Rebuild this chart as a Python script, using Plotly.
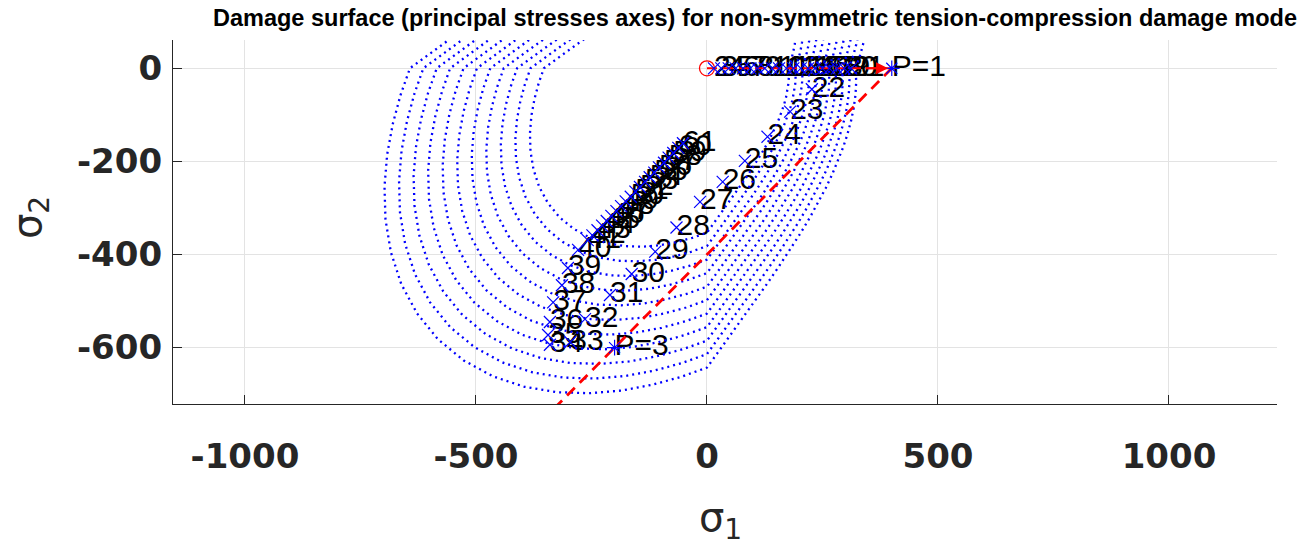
import plotly.graph_objects as go

# ---------------- data ----------------
# largest damage surface in principal-stress plane (sigma1, sigma2)
surf_s1 = [-426.5, -469.0, -517.3, -573.8, -606.4, -643.0, -663.5, -680.2, -692.3, -698.0,
           -695.9, -684.2, -661.8, -627.6, -582.2, -526.6, -463.4, -395.1, -324.5, -254.0,
           -185.5, -119.9, -58.1, 0.0, 26.5, 50.2, 91.2, 125.7, 155.2, 180.9, 203.5, 223.5,
           241.2, 257.1, 271.2, 283.7, 294.6, 304.0, 311.7, 317.6, 321.5, 323.0, 321.5,
           331.7, 340.1, 346.1, 349.0]
surf_s2 = [155.2, 125.7, 91.2, 50.2, 26.5, 0.0, -58.1, -119.9, -185.5, -254.0,
           -324.5, -395.1, -463.4, -526.6, -582.2, -627.6, -661.8, -684.2, -695.9, -698.0,
           -692.3, -680.2, -663.5, -643.0, -606.4, -573.8, -517.3, -469.0, -426.5, -388.0,
           -352.5, -319.2, -287.5, -257.1, -227.6, -198.6, -170.1, -141.8, -113.5, -85.1,
           -56.7, -28.3, 0.0, 29.0, 60.0, 92.7, 127.0]
surf_outer_cross = 643.0
# compressive sigma1-axis crossing of every plotted surface
surf_levels = [353, 382, 411, 440, 469, 498, 527, 556, 585, 614, 643]

# computed stress path (step number, sigma1, sigma2)
step_ids = list(range(2, 62))
step_s1 = [15, 31, 47, 62, 78, 94, 109, 125, 141, 156, 172, 187, 203, 219, 234, 250, 265, 281, 297, 312,
           227, 180, 131, 82, 34, -15, -66, -112, -163, -210, -264, -296,
           -340, -344, -340, -333, -314, -301, -279,
           -258, -248, -237, -227, -217, -207, -196, -186, -176, -165, -155, -145, -134, -124,
           -114, -104, -93, -83, -73, -62, -52]
step_s2 = [0] * 20 + [
           -45, -93, -147, -199, -244, -287, -342, -394, -442, -487, -539, -588,
           -594, -573, -545, -503, -466, -429, -390,
           -369, -359, -348, -338, -328, -317, -307, -296, -286, -276, -265, -255, -244, -234,
           -224, -213, -203, -192, -182, -171, -161]

# prescribed load points
load_s1 = [400, -200]
load_s2 = [0, -600]
load_names = ["P=1", "P=3"]
origin = (0, 0)
path_end = (-400, -800)

x_ticks = [-1000, -500, 0, 500, 1000]
x_tick_text = ["-1000", "-500", "0", "500", "1000"]
y_ticks = [-600, -400, -200, 0]
y_tick_text = ["-600", "-400", "-200", "0"]

BLUE = "#0000ff"
RED = "#ff0000"

fig = go.Figure()

# step labels (drawn first, surfaces end up on top as in the original)
fig.add_trace(go.Scatter(
    x=step_s1, y=step_s2, mode="text", text=[str(i) for i in step_ids],
    textposition="middle right",
    textfont=dict(family="Liberation Sans, Arial", size=30, color="black"),
    showlegend=False, hoverinfo="skip"))
fig.add_trace(go.Scatter(
    x=load_s1, y=load_s2, mode="text", text=load_names,
    textposition="middle right",
    textfont=dict(family="Liberation Sans, Arial", size=30, color="black"),
    showlegend=False, hoverinfo="skip"))

# damage surfaces
for lev in surf_levels:
    k = lev / surf_outer_cross
    fig.add_trace(go.Scatter(
        x=[v * k for v in surf_s1], y=[v * k for v in surf_s2], mode="lines",
        line=dict(color=BLUE, width=2.3, dash="2px,4px"),
        showlegend=False, hoverinfo="skip"))

# prescribed path
fig.add_trace(go.Scatter(
    x=[origin[0], load_s1[0]], y=[origin[1], load_s2[0]], mode="lines",
    line=dict(color=RED, width=2, dash="10px,6px"), showlegend=False))
fig.add_trace(go.Scatter(
    x=[load_s1[0], path_end[0]], y=[load_s2[0], path_end[1]], mode="lines",
    line=dict(color=RED, width=2.8, dash="11px,7px"), showlegend=False))
fig.add_annotation(x=load_s1[0] - 8, y=load_s2[0], ax=load_s1[0] - 60, ay=load_s2[0],
                   xref="x", yref="y", axref="x", ayref="y", showarrow=True,
                   arrowhead=2, arrowsize=1.2, arrowwidth=2, arrowcolor=RED, text="")
fig.add_trace(go.Scatter(
    x=[origin[0]], y=[origin[1]], mode="markers",
    marker=dict(symbol="circle-open", size=15, color=RED, line=dict(width=1.3, color=RED)),
    showlegend=False))

# computed stress points
fig.add_trace(go.Scatter(
    x=step_s1, y=step_s2, mode="markers",
    marker=dict(symbol="x-thin", size=12, color=BLUE, line=dict(width=1.2, color=BLUE)),
    showlegend=False))
fig.add_trace(go.Scatter(
    x=load_s1, y=load_s2, mode="markers",
    marker=dict(symbol="asterisk", size=13, color=BLUE, line=dict(width=1.2, color=BLUE)),
    showlegend=False))

axis_common = dict(
    showgrid=True, gridcolor="#e3e3e3", gridwidth=1, zeroline=False,
    showline=True, linecolor="#262626", linewidth=1.3,
    ticks="inside", ticklen=9, tickwidth=1.3, tickcolor="#262626",
    tickfont=dict(family="DejaVu Sans", size=34, color="#262626", weight="bold"),
    mirror=False)

fig.update_layout(
    width=1309, height=554,
    margin=dict(l=173, r=32, t=40, b=150),
    paper_bgcolor="white", plot_bgcolor="white",
    xaxis=dict(range=[-1155.8, 1233.8], tickvals=x_ticks, ticktext=x_tick_text,
               ticklabelstandoff=22, **axis_common),
    yaxis=dict(range=[-721.2, 60.8], tickvals=y_ticks, ticktext=y_tick_text,
               ticklabelstandoff=3, **axis_common),
    title=dict(text="<b>Damage surface (principal stresses axes) for non-symmetric tension-compression damage mode</b>",
               x=755 / 1309, xanchor="center", xref="container", y=1 - 18 / 554, yanchor="middle",
               font=dict(family="Liberation Sans, Arial", size=23.5, color="black")),
    showlegend=False,
)

fig.add_annotation(text="σ<sub>1</sub>", xref="paper", yref="paper",
                   x=(720 - 173) / 1104, y=-(520 - 404) / 364, xanchor="center", yanchor="middle",
                   showarrow=False, font=dict(family="DejaVu Sans", size=40, color="#262626"))
fig.add_annotation(text="σ<sub>2</sub>", xref="paper", yref="paper",
                   x=-(173 - 30) / 1104, y=(404 - 218) / 364, xanchor="center", yanchor="middle",
                   textangle=-90, showarrow=False,
                   font=dict(family="DejaVu Sans", size=40, color="#262626"))

fig.write_html("out.html")
